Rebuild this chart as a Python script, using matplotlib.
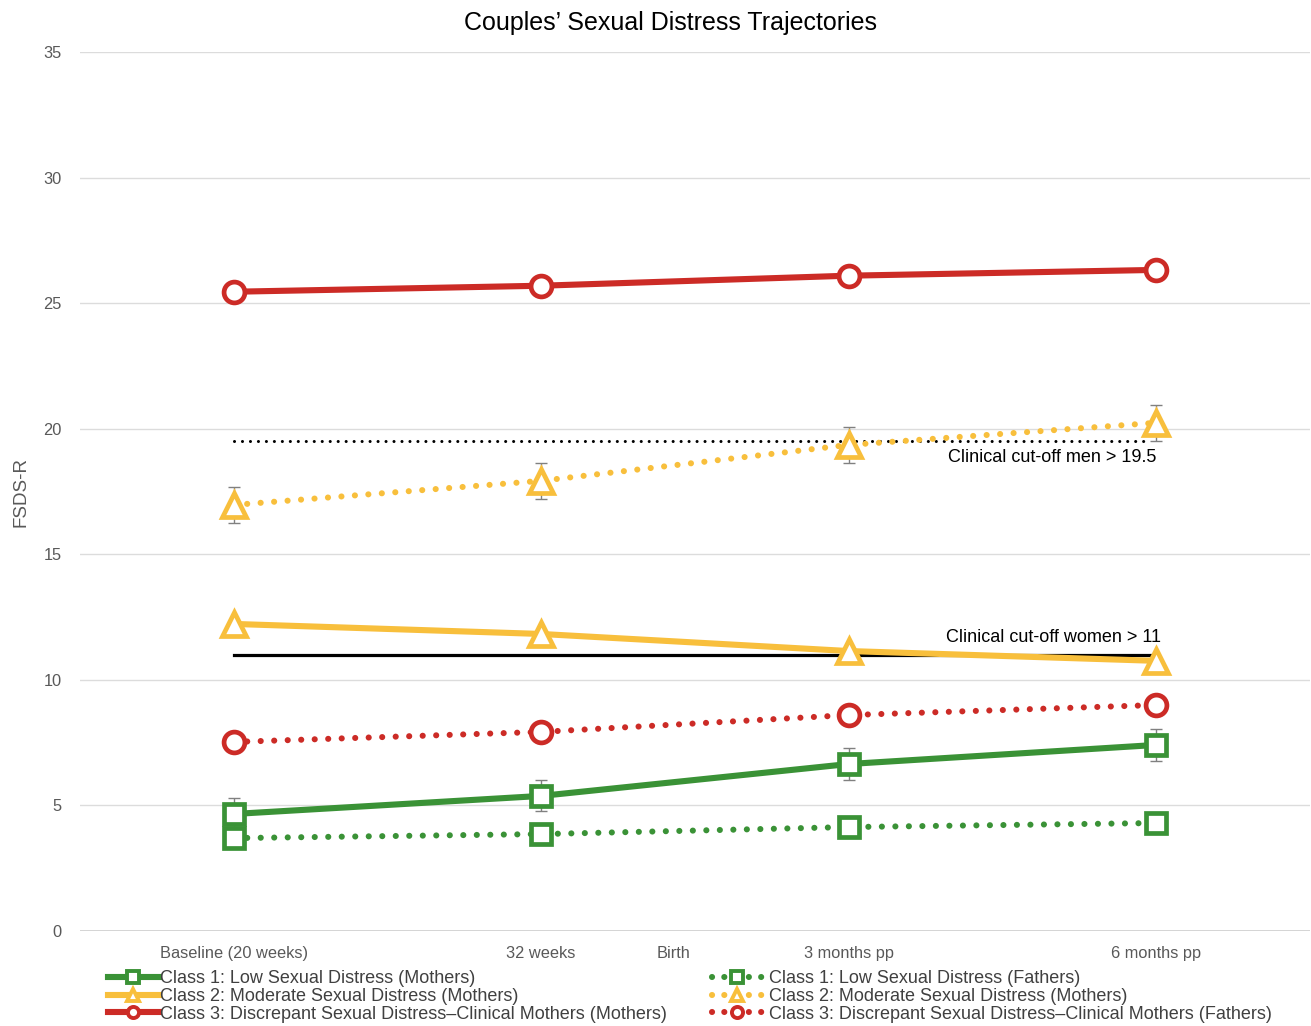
import matplotlib.pyplot as plt
from matplotlib.lines import Line2D

plt.rcParams['font.family'] = ['Liberation Sans', 'DejaVu Sans']

# time points (x positions are evenly spaced, Birth sits between 32 weeks and 3 months pp)
x_points = [0, 1, 2, 3]
tick_pos = [0, 1, 1.43, 2, 3]
tick_labels = ["Baseline (20 weeks)", "32 weeks", "Birth", "3 months pp", "6 months pp"]

c1_mothers = [4.66, 5.38, 6.65, 7.41]
c1_mothers_err = [0.62, 0.62, 0.62, 0.62]
c1_fathers = [3.70, 3.86, 4.14, 4.30]

c2_mothers = [12.23, 11.83, 11.15, 10.76]
c2_dotted = [16.97, 17.93, 19.36, 20.24]
c2_dotted_err = [0.72, 0.72, 0.72, 0.72]

c3_mothers = [25.46, 25.70, 26.10, 26.33]
c3_fathers = [7.53, 7.93, 8.60, 9.00]

cutoff_men = 19.5
cutoff_women = 11

GREEN = '#3a9236'
YELLOW = '#f8bf3c'
RED = '#cc2b26'
DOT = (0, (0.01, 2.2))

labels_left = ["Class 1: Low Sexual Distress (Mothers)",
               "Class 2: Moderate Sexual Distress (Mothers)",
               "Class 3: Discrepant Sexual Distress\u2013Clinical Mothers (Mothers)"]
labels_right = ["Class 1: Low Sexual Distress (Fathers)",
                "Class 2: Moderate Sexual Distress (Mothers)",
                "Class 3: Discrepant Sexual Distress\u2013Clinical Mothers (Fathers)"]


def main():
    fig = plt.figure(figsize=(13.11, 10.26), dpi=100)
    ax = fig.add_axes([0.061, 0.0926, 0.938, 0.8565])

    ax.set_xlim(-0.5, 3.5)
    ax.set_ylim(0, 35)
    ax.set_yticks(range(0, 36, 5))
    ax.grid(True, axis='y', color='#dcdcdc', lw=1.0)
    ax.set_axisbelow(True)
    for s in ax.spines.values():
        s.set_visible(False)
    ax.axhline(0, color='#cfcfcf', lw=1.2, zorder=1)

    ax.set_xticks(tick_pos)
    ax.set_xticklabels(tick_labels)
    ax.tick_params(axis='both', length=0, labelsize=11.8, colors='#595959')
    ax.tick_params(axis='x', pad=11)
    ax.tick_params(axis='y', pad=13)
    ax.set_ylabel("FSDS-R", fontsize=13.5, color='#595959', labelpad=10)
    ax.set_title("Couples\u2019 Sexual Distress Trajectories", fontsize=18, pad=16, x=0.4805)

    # clinical cut-offs
    ax.plot([0, 2.985], [cutoff_men] * 2, color='black', lw=2.2,
            linestyle=(0, (0.01, 2.6)), dash_capstyle='round', zorder=2)
    ax.plot([0, 3], [cutoff_women] * 2, color='black', lw=2.3, zorder=2)
    ax.text(3, cutoff_men - 0.3, "Clinical cut-off men > 19.5", ha='right', va='top', fontsize=13)
    ax.text(3.015, cutoff_women + 0.35, "Clinical cut-off women > 11", ha='right', va='bottom', fontsize=13)

    mk = dict(markerfacecolor='white', markeredgewidth=3.4)

    # error bars (drawn under the markers)
    ax.errorbar(x_points, c1_mothers, yerr=c1_mothers_err, fmt='none', ecolor='#808080',
                elinewidth=1.0, capsize=4, capthick=1.0, zorder=3)
    ax.errorbar(x_points, c2_dotted, yerr=c2_dotted_err, fmt='none', ecolor='#808080',
                elinewidth=1.0, capsize=4, capthick=1.0, zorder=3)

    ax.plot(x_points, c3_fathers, color=RED, lw=4.4, linestyle=DOT, dash_capstyle='round',
            marker='o', markersize=15, markeredgecolor=RED, zorder=4, **mk)
    ax.plot(x_points, c1_fathers, color=GREEN, lw=4.4, linestyle=DOT, dash_capstyle='round',
            marker='s', markersize=14, markeredgecolor=GREEN, zorder=4, **mk)
    ax.plot(x_points, c1_mothers, color=GREEN, lw=4.4, solid_capstyle='round',
            marker='s', markersize=14, markeredgecolor=GREEN, zorder=5, **mk)
    ax.plot(x_points, c2_mothers, color=YELLOW, lw=4.4, solid_capstyle='round',
            marker='^', markersize=17, markeredgecolor=YELLOW, zorder=5, **mk)
    ax.plot(x_points, c2_dotted, color=YELLOW, lw=4.4, linestyle=DOT, dash_capstyle='round',
            marker='^', markersize=17, markeredgecolor=YELLOW, zorder=5, **mk)
    ax.plot(x_points, c3_mothers, color=RED, lw=4.4, solid_capstyle='round',
            marker='o', markersize=15, markeredgecolor=RED, zorder=5, **mk)

    # legends
    left = []
    right = []
    for col, m in zip([GREEN, YELLOW, RED], ['s', '^', 'o']):
        left.append(Line2D([], [], color=col, lw=4.4, marker=m, markersize=8,
                           markerfacecolor='white', markeredgecolor=col, markeredgewidth=2.8))
        right.append(Line2D([], [], color=col, lw=4.4, linestyle=(0, (0.01, 2.0)), dash_capstyle='round',
                            marker=m, markersize=8, markerfacecolor='white',
                            markeredgecolor=col, markeredgewidth=2.8))
    kw = dict(loc='upper left', frameon=False, fontsize=13, handlelength=2.8,
              handletextpad=0.1, labelspacing=0.05, borderpad=0, borderaxespad=0,
              labelcolor='#404040')
    fig.legend(left, labels_left, bbox_to_anchor=(108 / 1311, 1 - 970 / 1026), **kw)
    fig.legend(right, labels_right, bbox_to_anchor=(712 / 1311, 1 - 970 / 1026),
               **dict(kw, handletextpad=0.35))

    plt.savefig("out.png", dpi=100)


if __name__ == '__main__':
    main()
